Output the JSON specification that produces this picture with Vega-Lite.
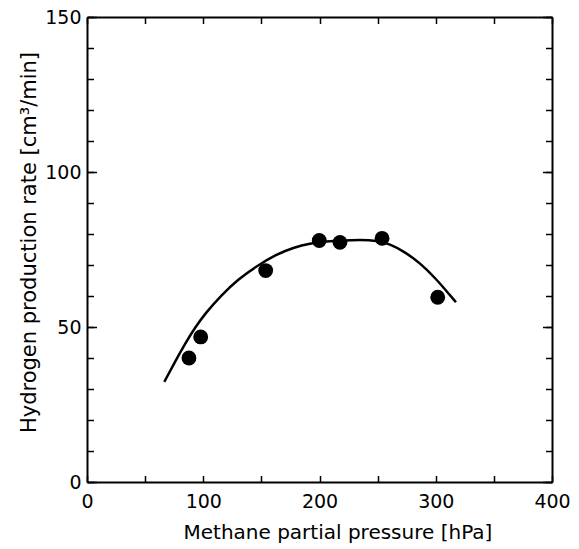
{
  "$schema": "https://vega.github.io/schema/vega-lite/v6.json",
  "width": 465,
  "height": 465,
  "autosize": {"type": "none"},
  "padding": {"left": 87, "top": 17, "right": 27, "bottom": 67},
  "background": "white",
  "config": {
    "view": {"stroke": null},
    "font": "DejaVu Sans",
    "axis": {
      "domainColor": "black",
      "domainWidth": 2,
      "tickColor": "black",
      "tickWidth": 1.5,
      "labelFont": "DejaVu Sans",
      "labelFontSize": 19,
      "labelColor": "black",
      "titleFont": "DejaVu Sans",
      "titleFontSize": 20,
      "titleFontWeight": "normal",
      "titleColor": "black",
      "grid": false
    }
  },
  "datasets": {
    "measured": [
      {"pressure": 87.7, "rate": 40.0},
      {"pressure": 97.8, "rate": 46.8},
      {"pressure": 153.7, "rate": 68.2},
      {"pressure": 199.8, "rate": 77.9},
      {"pressure": 217.6, "rate": 77.3},
      {"pressure": 253.8, "rate": 78.6},
      {"pressure": 301.7, "rate": 59.6}
    ],
    "fit": [
      {"pressure": 66.5, "rate": 32.3},
      {"pressure": 75.7, "rate": 38.8},
      {"pressure": 84.3, "rate": 44.6},
      {"pressure": 92.9, "rate": 49.8},
      {"pressure": 101.5, "rate": 54.3},
      {"pressure": 115.9, "rate": 60.4},
      {"pressure": 130.2, "rate": 65.4},
      {"pressure": 144.5, "rate": 69.3},
      {"pressure": 163.2, "rate": 73.5},
      {"pressure": 177.5, "rate": 75.6},
      {"pressure": 191.8, "rate": 77.0},
      {"pressure": 206.0, "rate": 77.6},
      {"pressure": 220.2, "rate": 77.9},
      {"pressure": 234.8, "rate": 78.1},
      {"pressure": 249.2, "rate": 77.9},
      {"pressure": 260.6, "rate": 76.8},
      {"pressure": 272.1, "rate": 74.5},
      {"pressure": 286.5, "rate": 70.7},
      {"pressure": 300.8, "rate": 65.3},
      {"pressure": 309.4, "rate": 61.5},
      {"pressure": 317.4, "rate": 58.0}
    ],
    "none": []
  },
  "layer": [
    {
      "data": {"name": "fit"},
      "mark": {"type": "line", "color": "black", "strokeWidth": 2.5, "interpolate": "basis"},
      "encoding": {
        "x": {
          "field": "pressure", "type": "quantitative",
          "scale": {"domain": [0, 400], "nice": false},
          "axis": {
            "orient": "bottom",
            "title": "Methane partial pressure [hPa]",
            "values": [0, 50, 100, 150, 200, 250, 300, 350, 400],
            "labelExpr": "datum.value % 100 === 0 ? datum.label : ''",
            "tickSize": -6.5,
            "labelBaseline": "alphabetic",
            "labelPadding": 31.5,
            "labelFlush": false,
            "labelOverlap": false,
            "titleBaseline": "alphabetic",
            "titleAlign": "left",
            "titleX": 96,
            "titleY": 56
          }
        },
        "y": {
          "field": "rate", "type": "quantitative",
          "scale": {"domain": [0, 150], "nice": false},
          "axis": {
            "orient": "left",
            "title": "Hydrogen production rate [cm³/min]",
            "values": [0, 10, 20, 30, 40, 50, 60, 70, 80, 90, 100, 110, 120, 130, 140, 150],
            "labelExpr": "datum.value % 50 === 0 ? datum.label : ''",
            "tickSize": -6.5,
            "labelPadding": 12.5,
            "labelFlush": false,
            "labelOverlap": false,
            "titleFontSize": 21,
            "titleAngle": 270,
            "titleBaseline": "alphabetic",
            "titleAlign": "center",
            "titleX": -52,
            "titleY": 225
          }
        }
      }
    },
    {
      "data": {"name": "measured"},
      "mark": {"type": "point", "filled": true, "color": "black", "opacity": 1, "size": 220},
      "encoding": {
        "x": {
          "field": "pressure", "type": "quantitative",
          "axis": {
            "orient": "top",
            "title": null,
            "labels": false,
            "values": [0, 50, 100, 150, 200, 250, 300, 350, 400],
            "tickSize": -6.5
          }
        },
        "y": {
          "field": "rate", "type": "quantitative",
          "axis": {
            "orient": "right",
            "title": null,
            "labels": false,
            "values": [0, 10, 20, 30, 40, 50, 60, 70, 80, 90, 100, 110, 120, 130, 140, 150],
            "tickSize": -6.5
          }
        }
      }
    },
    {
      "data": {"name": "none"},
      "mark": {"type": "point"},
      "encoding": {
        "x": {"field": "pressure", "type": "quantitative", "axis": null},
        "y": {
          "field": "rate", "type": "quantitative",
          "axis": {
            "orient": "left",
            "title": null,
            "labels": false,
            "domain": false,
            "values": [0, 50, 100, 150],
            "tickSize": -9.5
          }
        }
      }
    },
    {
      "data": {"name": "none"},
      "mark": {"type": "point"},
      "encoding": {
        "x": {"field": "pressure", "type": "quantitative", "axis": null},
        "y": {
          "field": "rate", "type": "quantitative",
          "axis": {
            "orient": "right",
            "title": null,
            "labels": false,
            "domain": false,
            "values": [0, 50, 100, 150],
            "tickSize": -9.5
          }
        }
      }
    }
  ],
  "resolve": {"axis": {"x": "independent", "y": "independent"}}
}
